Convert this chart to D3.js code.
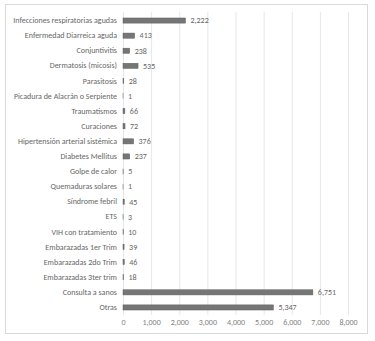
<!DOCTYPE html>
<html><head><meta charset="utf-8">
<script src="https://cdn.jsdelivr.net/npm/d3@7"></script>
<style>body{margin:0;background:#fff}svg{display:block}</style>
</head><body>
<script>
const categories = ["Infecciones respiratorias agudas","Enfermedad Diarreica aguda","Conjuntivitis","Dermatosis (micosis)","Parasitosis","Picadura de Alacrán o Serpiente","Traumatismos","Curaciones","Hipertensión arterial sistémica","Diabetes Mellitus","Golpe de calor","Quemaduras solares","Síndrome febril","ETS","VIH con tratamiento","Embarazadas 1er Trim","Embarazadas 2do Trim","Embarazadas 3ter trim","Consulta a sanos","Otras"];
const values = [2222,413,238,535,28,1,66,72,376,237,5,1,45,3,10,39,46,18,6751,5347];
const tickValues = [0,1000,2000,3000,4000,5000,6000,7000,8000];

const W = 375, H = 341;
const svg = d3.select("body").append("svg").attr("width", W).attr("height", H);
svg.append("rect").attr("x",5.5).attr("y",4.5).attr("width",362).attr("height",329)
  .attr("fill","#fff").attr("stroke","#d9d9d9");

const x = d3.scaleLinear().domain([0,8000]).range([123,348]);
const y = d3.scaleBand().domain(categories).range([13,315]).paddingInner(0.66).paddingOuter(0.33);

const font = "Calibri, 'Liberation Sans Narrow', 'Open Sans', sans-serif";
// grid
svg.append("g").selectAll("line").data(tickValues).join("line")
  .attr("x1",d=>x(d)+0.5).attr("x2",d=>x(d)+0.5).attr("y1",12).attr("y2",315)
  .attr("stroke","#e6e6e6");

// axis tick labels
const xAxis = d3.axisBottom(x).tickValues(tickValues).tickFormat(d3.format(",")).tickSize(0).tickPadding(0);
const gx = svg.append("g").attr("transform","translate(0,319.5)").call(xAxis);
gx.select(".domain").remove();
gx.selectAll("text").attr("font-family",font).attr("font-size",8).attr("fill","#7f7f7f").attr("dy","0.71em");

// category labels
const yAxis = d3.axisLeft(y).tickSize(0).tickPadding(0);
const gy = svg.append("g").attr("transform","translate(117,0)").call(yAxis);
gy.select(".domain").remove();
gy.selectAll("text").attr("font-family",font).attr("font-size",8).attr("fill","#666666");

// bars
svg.append("g").selectAll("rect").data(values).join("rect")
  .attr("x",x(0)).attr("y",(d,i)=>y(categories[i]))
  .attr("width",d=>Math.max(0,x(d)-x(0))).attr("height",y.bandwidth())
  .attr("fill","#767676").attr("stroke","#5f5f5f").attr("stroke-width",0.5);

// value labels
svg.append("g").selectAll("text").data(values).join("text")
  .attr("x",d=>x(d)+5).attr("y",(d,i)=>y(categories[i])+y.bandwidth()/2)
  .attr("dy","0.35em").attr("font-family",font).attr("font-size",8).attr("fill","#666666")
  .text(d=>d3.format(",")(d));
</script>
</body></html>
